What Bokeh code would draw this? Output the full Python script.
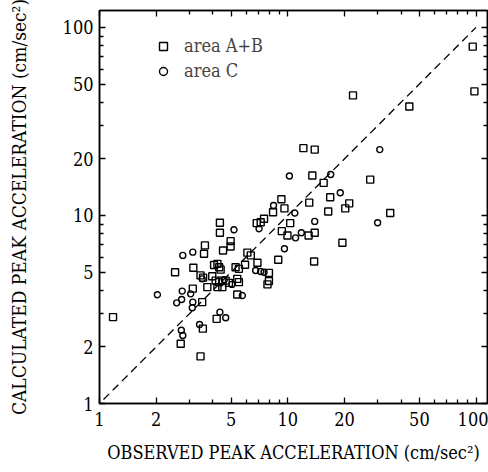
from bokeh.plotting import figure
from bokeh.models import (FixedTicker, NumeralTickFormatter, LogAxis, Legend, LegendItem,
                          Range1d)
from bokeh.embed import file_html
from bokeh.resources import INLINE

# ---- data ----
ab_obs = [1.18, 2.52, 2.70, 3.44, 3.15, 3.13, 3.51, 3.54, 3.59, 3.63, 3.44, 3.55, 3.74,
          3.97, 4.06, 4.23, 4.32, 4.40, 4.14, 4.32, 4.49, 4.68, 4.87, 4.23, 4.49, 4.19,
          4.36, 4.36, 4.97, 4.97, 4.53, 5.28, 5.50, 5.93, 5.39, 5.50, 5.39, 6.10, 6.36,
          6.90, 7.94, 7.80, 7.94, 6.84, 7.18, 7.48, 8.35, 9.25, 9.6, 9.3, 10.3, 9.96,
          8.9, 12.9, 13.9, 13.8, 13.0, 16.4, 16.8, 20.2, 21.2, 19.5, 35.0, 27.4, 15.5,
          13.5, 12.1, 13.9, 22.2, 44.2, 96.0, 98.0]
ab_calc = [2.88, 4.99, 2.08, 1.78, 5.27, 4.08, 3.46, 2.50, 6.26, 6.93, 4.80, 4.67, 4.16,
           4.75, 5.45, 5.53, 5.30, 5.15, 4.50, 4.42, 4.50, 4.50, 4.38, 4.16, 4.16, 2.82,
           9.15, 8.09, 7.30, 6.84, 6.51, 5.30, 5.20, 5.47, 4.60, 4.42, 3.80, 6.34, 6.13,
           5.60, 4.95, 4.30, 4.48, 9.10, 9.20, 9.60, 10.4, 12.2, 10.9, 8.25, 9.1, 7.83,
           5.81, 7.83, 8.09, 5.69, 11.7, 10.5, 12.5, 10.9, 11.6, 7.16, 10.3, 15.5, 14.9,
           16.3, 22.8, 22.4, 43.5, 38.0, 79.0, 45.7]

c_obs = [2.03, 2.77, 3.13, 2.75, 3.05, 2.73, 2.57, 3.13, 3.11, 3.40, 2.72, 2.77, 4.36,
         4.68, 3.51, 5.18, 5.74, 6.75, 7.18, 7.48, 7.04, 8.40, 9.6, 10.9, 11.0, 11.8,
         13.9, 10.2, 16.9, 19.0, 30.8, 30.0, 4.60, 5.05]
c_calc = [3.79, 6.13, 6.38, 3.96, 3.83, 3.57, 3.43, 3.46, 3.23, 2.63, 2.45, 2.30, 3.06,
          2.86, 4.60, 8.39, 3.75, 5.10, 5.03, 4.99, 8.50, 11.3, 6.65, 10.3, 7.6, 8.09,
          9.3, 16.2, 16.5, 13.2, 22.4, 9.14, 4.55, 4.30]

diag = [1.05, 100.0]

major_ticks = [1, 2, 5, 10, 20, 50, 100]
minor_ticks = [3, 4, 6, 7, 8, 9, 30, 40, 60, 70, 80, 90]

x_label = "OBSERVED PEAK ACCELERATION (cm/sec\u00b2)"
y_label = "CALCULATED PEAK ACCELERATION (cm/sec\u00b2)"
series_names = ["area A+B", "area C"]

FONT = "DejaVu Serif Condensed"

p = figure(width=488, height=472, x_axis_type="log", y_axis_type="log",
           x_range=Range1d(1, 115), y_range=Range1d(1, 123),
           output_backend="svg", toolbar_location=None,
           min_border_left=99, min_border_right=1, min_border_top=10, min_border_bottom=69)
p.background_fill_color = "white"
p.border_fill_color = "white"
p.grid.visible = False
p.outline_line_color = "black"
p.outline_line_width = 1.5

def style_axis(ax, labels=True):
    ax.ticker = FixedTicker(ticks=major_ticks, minor_ticks=minor_ticks)
    ax.formatter = NumeralTickFormatter(format="0")
    ax.major_tick_in = 6
    ax.major_tick_out = 0
    ax.minor_tick_in = 4
    ax.minor_tick_out = 0
    ax.major_tick_line_color = "black"
    ax.minor_tick_line_color = "black"
    ax.major_tick_line_width = 1.3
    ax.minor_tick_line_width = 1.3
    ax.axis_line_color = "black"
    ax.axis_line_width = 1.5
    if labels:
        ax.major_label_text_font = FONT
        ax.major_label_text_font_size = "18px"
        ax.major_label_text_color = "black"
        ax.axis_label_text_font = FONT
        ax.axis_label_text_font_size = "18px"
        ax.axis_label_text_font_style = "normal"
        ax.axis_label_text_color = "black"
    else:
        ax.major_label_overrides = {t: "" for t in major_ticks}
        ax.major_label_text_font_size = "0px"
        ax.major_label_standoff = 0

style_axis(p.xaxis[0])
style_axis(p.yaxis[0])
p.xaxis[0].axis_label = x_label
p.yaxis[0].axis_label = y_label
p.yaxis[0].axis_label_text_font_size = "19px"
p.xaxis[0].major_label_standoff = 8
p.xaxis[0].axis_label_standoff = 13
p.yaxis[0].major_label_standoff = 6
p.yaxis[0].axis_label_standoff = 30

right = LogAxis()
style_axis(right, labels=False)
p.add_layout(right, "right")
top = LogAxis()
style_axis(top, labels=False)
p.add_layout(top, "above")

p.line(diag, diag, line_color="black", line_width=1.3, line_dash="8 5")

r_ab = p.scatter(ab_obs, ab_calc, marker="square", size=7, fill_color=None,
                 line_color="black", line_width=1.4)
r_c = p.scatter(c_obs, c_calc, marker="circle", size=6, fill_color=None,
                line_color="black", line_width=1.4)

legend = Legend(items=[LegendItem(label=series_names[0], renderers=[r_ab]),
                       LegendItem(label=series_names[1], renderers=[r_c])],
                location=(54, 322), padding=0, margin=0, spacing=4,
                glyph_width=20, glyph_height=20, label_height=20, label_standoff=11,
                label_text_font=FONT, label_text_font_size="18px",
                border_line_color=None, background_fill_alpha=0)
p.add_layout(legend)

open("out.html", "w").write(file_html(p, INLINE))
